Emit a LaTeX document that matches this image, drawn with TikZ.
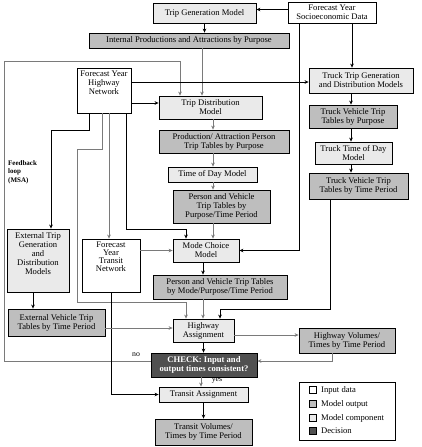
\documentclass[tikz,border=0pt]{standalone}
\usepackage{fontspec}
\setmainfont{Liberation Serif}
\usetikzlibrary{arrows.meta}
\definecolor{lightc}{HTML}{EAEAEA}
\definecolor{midc}{HTML}{BEBEBE}
\definecolor{darkc}{HTML}{505050}
\definecolor{linec}{HTML}{7A7A7A}
\newcommand\fs{\fontsize{8.6}{9}\selectfont}
\newcommand\boxat[7]{%
  \node[#1, minimum width={(#5-#3)*1pt}, minimum height={(#6-#4)*1pt}] (#2) at ({(#3+#5)/2},{(#4+#6)/2}) {#7};}
\tikzset{
  base/.style={draw=black, line width=0.8pt, align=center, inner sep=1pt, font=\fs},
  inp/.style={base, fill=white},
  comp/.style={base, fill=lightc},
  outp/.style={base, fill=midc},
  dec/.style={base, fill=darkc, text=white, font=\fs\bfseries},
  arr/.style={-{Stealth[length=4pt,width=3.6pt]}, line width=0.7pt, draw=black},
  garr/.style={arr, draw=linec},
  txt/.style={font=\fs, inner sep=0pt, align=center},
  legsq/.style={draw=black, line width=0.6pt, minimum size=7pt, inner sep=0pt},
  legtx/.style={font=\fs, anchor=west, inner sep=0pt}
}
\begin{document}
\begin{tikzpicture}[x=1pt,y=-1pt]
\useasboundingbox (0,0) rectangle (421,447);
\fill[white] (0,0) rectangle (421,447);

% boxes
\boxat{comp}{tgm}{153}{3}{256}{23}{Trip Generation Model}
\boxat{inp}{socio}{288}{2}{376}{23}{Forecast Year\\Socioeconomic Data}
\boxat{outp}{ipa}{89}{33}{289}{48}{Internal Productions and Attractions by Purpose}
\boxat{inp}{fyhn}{77}{68}{131}{113}{}
\node[txt, anchor=north] (fyhnt) at ([yshift=-3pt]fyhn.north) {Forecast Year\\Highway\\Network};
\boxat{comp}{tdm}{159}{96}{262}{119}{Trip Distribution\\Model}
\boxat{outp}{pap}{159}{130}{289}{153}{Production/ Attraction Person\\Trip Tables by Purpose}
\boxat{comp}{tod}{168}{167}{257}{182}{Time of Day Model}
\boxat{outp}{pvt}{173}{190}{270}{223}{Person and Vehicle\\Trip Tables by\\Purpose/Time Period}
\boxat{comp}{mc}{173}{239}{239}{262}{Mode Choice\\Model}
\boxat{outp}{pvm}{153}{275}{287}{299}{Person and Vehicle Trip Tables\\by Mode/Purpose/Time Period}
\boxat{comp}{ha}{173}{319}{234}{342}{Highway\\Assignment}
\boxat{dec}{chk}{151}{353}{257}{377}{CHECK: Input and\\output times consistent?}
\boxat{comp}{ta}{159}{387}{248}{402}{Transit Assignment}
\boxat{outp}{tv}{155}{419}{252}{445}{Transit Volumes/\\Times by Time Period}
\boxat{comp}{ttg}{309}{68}{413}{93}{Truck Trip Generation\\and Distribution Models}
\boxat{outp}{tvp}{309}{105}{397}{128}{Truck Vehicle Trip\\Tables by Purpose}
\boxat{comp}{ttod}{315}{142}{392}{164}{Truck Time of Day\\Model}
\boxat{outp}{tvtp}{309}{173}{408}{199}{Truck Vehicle Trip\\Tables by Time Period}
\boxat{comp}{etg}{7}{229}{69}{292}{}
\node[txt, anchor=north] (etgt) at ([yshift=-4pt]etg.north) {External Trip\\Generation\\and\\Distribution\\Models};
\boxat{inp}{fytn}{82}{239}{140}{292}{}
\node[txt, anchor=north, font=\fontsize{8.6}{7.9}\selectfont] (fytnt) at ([yshift=-3pt]fytn.north) {Forecast\\Year\\Transit\\Network};
\boxat{outp}{evt}{8}{309}{105}{336}{External Vehicle Trip\\Tables by Time Period}
\boxat{outp}{hv}{299}{328}{395}{353}{Highway Volumes/\\Times by Time Period}

% helper columns / rows
\coordinate (c33) at (33,0);
\coordinate (c51) at (51,0);
\coordinate (c89) at (89,0);
\coordinate (c102) at (102,0);
\coordinate (c109) at (109,0);
\coordinate (c126) at (126,0);
\coordinate (c180) at (180,0);
\coordinate (c186) at (186,0);
\coordinate (c201) at (201,0);
\coordinate (c202) at (202,0);
\coordinate (c203) at (203,0);
\coordinate (c213) at (213,0);
\coordinate (c220) at (220,0);
\coordinate (c299) at (299,0);
\coordinate (c330) at (330,0);
\coordinate (c332) at (332,0);
\coordinate (c351) at (351,0);
\coordinate (c352) at (352,0);
\coordinate (r328) at (0,328);
\coordinate (r335) at (0,335);

% connectors
\draw[arr] ([yshift=3pt]socio.west) -- ([yshift=3pt]socio.west -| tgm.east);
\draw[arr] (tgm.south) -- (tgm.south |- ipa.north);
\draw[garr] (ipa.south -| c202) -- (tdm.north -| c202);
\draw[garr] ([yshift=4pt]chk.west) -| (4,61) -| (tdm.north -| c180);
\draw[arr] ([yshift=8.5pt]fyhn.east) -- ([yshift=8.5pt]fyhn.east -| ttg.west);
\draw[arr] ([yshift=-12.5pt]fyhn.east) -- ([yshift=-12.5pt]fyhn.east -| tdm.west);
\draw[arr] (socio.south -| c352) -- (ttg.north -| c352);
\draw[arr] (socio.south -| c299) |- (mc.east);
\draw[garr] (tdm.south -| c213) -- (pap.north -| c213);
\draw[garr] (pap.south -| c213) -- (tod.north -| c213);
\draw[garr] (tod.south -| c213) -- (pvt.north -| c213);
\draw[garr] (pvt.south -| c213) -- (mc.north -| c213);
\draw[arr] (mc.south -| c203) -- (pvm.north -| c203);
\draw[garr] (pvm.south -| c203) -- (ha.north -| c203);
\draw[arr] (fyhn.south -| c89) -- (89,130) -| (etg.north -| c51);
\draw[garr] (fyhn.south -| c102) -- (102,149) -- (77,149) -- (77,302) -| (ha.north -| c186);
\draw[garr] (fyhn.south -| c109) -- (fytn.north -| c109);
\draw[arr] (fyhn.south -| c126) -- (126,229) -| (mc.north -| c186);
\draw[garr] (fytn.east |- mc.west) -- (mc.west);
\draw[arr] (fytn.south) |- (ta.west);
\draw[arr] (etg.south -| c33) -- (evt.north -| c33);
\draw[garr] (evt.east |- r328) -- (ha.west |- r328);
\draw[arr] (tvtp.south -| c330) -- (330,309) -| (ha.north -| c220);
\draw[garr] (ha.east |- r335) -- (hv.west |- r335);
\draw[garr] (hv.south -| c332) |- ([yshift=4pt]chk.east);
\draw[arr] (ha.south) -- (chk.north -| ha.south);
\draw[garr] (chk.south -| c201) -- (ta.north -| c201);
\draw[arr] (ta.south) -- (tv.north -| ta.south);
\draw[arr] (ttg.south -| c351) -- (tvp.north -| c351);
\draw[arr] (tvp.south -| c351) -- (ttod.north -| c351);
\draw[arr] (ttod.south -| c351) -- (tvtp.north -| c351);

% labels
\node[font=\fontsize{7.8}{8}\selectfont, inner sep=0pt] (nolab) at (136,355) {no};
\node[font=\fontsize{7.8}{8}\selectfont, inner sep=0pt] (yeslab) at (217,380) {yes};
\node[anchor=north west, align=left, inner sep=0pt, font=\fontsize{7}{8.5}\selectfont\bfseries] (fb) at (8,160) {Feedback\\loop\\(MSA)};

% legend
\boxat{inp}{legend}{299}{382}{395}{440}{}
\node[legsq, fill=white] (lq1) at (313,390) {};
\node[legsq, fill=midc] (lq2) at (313,404) {};
\node[legsq, fill=lightc] (lq3) at (313,418) {};
\node[legsq, fill=darkc] (lq4) at (313,431) {};
\node[legtx] (lt1) at (321,390) {Input data};
\node[legtx] (lt2) at (321,404) {Model output};
\node[legtx] (lt3) at (321,418) {Model component};
\node[legtx] (lt4) at (321,431) {Decision};
\end{tikzpicture}
\end{document}
